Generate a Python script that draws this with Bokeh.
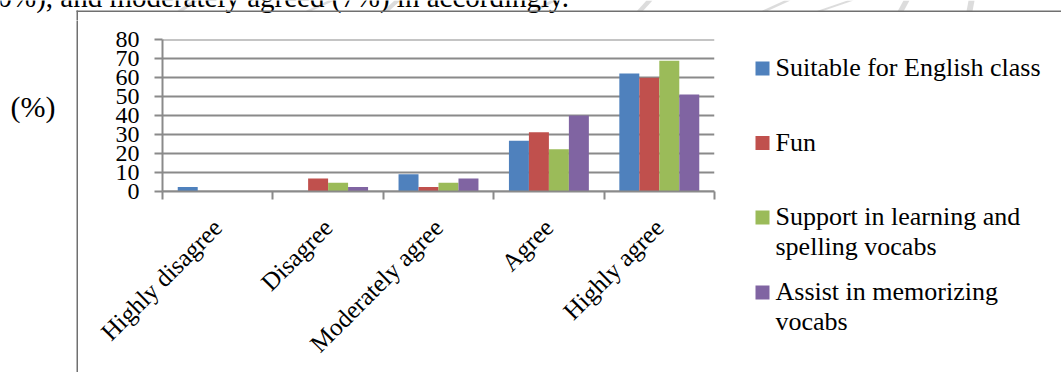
import math
import numpy as np
from bokeh.plotting import figure
from bokeh.layouts import column, row
from bokeh.models import Range1d, FixedTicker
from bokeh.core.properties import value
from bokeh.embed import file_html
from bokeh.resources import INLINE

# Survey answers (percent of respondents) per statement
categories = ["Highly disagree", "Disagree", "Moderately agree", "Agree", "Highly agree"]
suitable = [2.2, 0.0, 8.9, 26.7, 62.2]
fun = [0.0, 6.7, 2.2, 31.1, 60.0]
support = [0.0, 4.4, 4.4, 22.2, 68.9]
assist = [0.0, 2.2, 6.7, 40.0, 51.1]
series_values = [suitable, fun, support, assist]
series_names = [
    "Suitable for English class",
    "Fun",
    "Support in learning and\nspelling vocabs",
    "Assist in memorizing\nvocabs",
]
series_colors = ["#4F81BD", "#C0504D", "#9BBB59", "#8064A2"]
y_ticks = [0, 10, 20, 30, 40, 50, 60, 70, 80]
unit_caption = "(%)"
intro_text = "0%), and moderately agreed (7%) in accordingly."

# page geometry (px): a strip on top, then caption | chart | legend
W, H = 1061, 372
TOP_H = 20
LEFT_W = 80
LEG_X = 735
FL, FR, FT, FB = 162, 714, 39, 191          # plotting frame on the page
GRAY = "#8a8a8a"
BORDER = "#707070"
SERIF = "Liberation Serif"


def baseline_y(base, size):
    # text glyphs are anchored about a third of an em above the baseline
    return base - 0.34 * size


def independent(f):
    # each panel keeps its own frame instead of lining up with its neighbours
    if "frame_align" in f.properties():
        f.frame_align = False
    return f


def blank(width, height, x0, y0):
    """A figure whose data units are page pixels (y pointing down)."""
    f = figure(width=width, height=height, output_backend="svg", toolbar_location=None,
               x_range=Range1d(x0, x0 + width), y_range=Range1d(y0 + height, y0),
               x_axis_location=None, y_axis_location=None,
               min_border=0, outline_line_color=None,
               background_fill_color="white", border_fill_color="white")
    f.xgrid.visible = False
    f.ygrid.visible = False
    return independent(f)


# ---- top strip: running text of the page and the chart's top border ----
top = blank(W, TOP_H, 0, 0)
stroke_x = [176, 304, 382, 530, 636, 760, 815, 897, 966]
stroke_w = [22, 30, 18, 26, 16, 30, 38, 12, 8]
top.patches(
    xs=[[x, x + 6, x + w, x + w - 6] for x, w in zip(stroke_x, stroke_w)],
    ys=[[11, 11, 0, 0] for _ in stroke_x],
    fill_color="#9a9a9a", fill_alpha=0.35, line_color=None,
)
top.text(x=[-3], y=[baseline_y(6, 29)], text=[intro_text], text_font=value(SERIF),
         text_font_size=value("29px"), text_color="black", text_baseline="alphabetic")
top.quad(left=[76, 76], right=[W + 1, 77.5], top=[10, 10], bottom=[11.5, TOP_H + 1],
         fill_color=BORDER, line_color=None)

# ---- left strip: border and unit caption ----
left = blank(LEFT_W, H - TOP_H, 0, TOP_H)
left.quad(left=[76], right=[77.5], top=[TOP_H - 1], bottom=[H + 1],
          fill_color=BORDER, line_color=None)
left.text(x=[10], y=[baseline_y(116.5, 30)], text=[unit_caption], text_font=value(SERIF),
          text_font_size=value("30px"), text_color="black", text_baseline="alphabetic")

# ---- chart ----
p = figure(
    width=LEG_X - LEFT_W, height=H - TOP_H,
    output_backend="svg", toolbar_location=None,
    x_range=Range1d(0.5, 5.5), y_range=Range1d(-0.2, 80.2),
    min_border_left=FL - LEFT_W, min_border_right=LEG_X - FR,
    min_border_top=FT - TOP_H, min_border_bottom=H - FB,
    outline_line_color=None,
    background_fill_color="white", border_fill_color="white",
)
independent(p)

yax = p.yaxis[0]
yax.ticker = FixedTicker(ticks=y_ticks)
yax.axis_line_color = GRAY
yax.axis_line_width = 2
yax.major_tick_line_color = GRAY
yax.major_tick_line_width = 2
yax.major_tick_out = 8
yax.major_tick_in = 0
yax.minor_tick_line_color = None
yax.major_label_text_font = SERIF
yax.major_label_text_font_size = "24px"
yax.major_label_text_color = "black"
yax.major_label_standoff = 15

# category axis: names at the centres, tick marks on the boundaries
xax = p.xaxis[0]
centers = list(range(1, len(categories) + 1))
xax.ticker = FixedTicker(ticks=centers,
                         minor_ticks=[c - 0.5 for c in centers] + [len(categories) + 0.5])
xax.major_label_overrides = {c: name for c, name in zip(centers, categories)}
xax.major_label_orientation = math.pi / 4
xax.major_tick_line_color = None
xax.major_tick_out = 0
xax.major_tick_in = 0
xax.minor_tick_line_color = GRAY
xax.minor_tick_line_width = 2
xax.minor_tick_out = 8
xax.minor_tick_in = 0
xax.axis_line_color = GRAY
xax.axis_line_width = 2
xax.major_label_text_font = SERIF
xax.major_label_text_font_size = "25px"
xax.major_label_text_color = "black"
xax.major_label_standoff = 24

p.xgrid.visible = False
p.ygrid.grid_line_color = GRAY
p.ygrid.grid_line_width = 2

bar_w = 0.181
idx = np.arange(1, len(categories) + 1)
for k, (vals, col) in enumerate(zip(series_values, series_colors)):
    p.vbar(x=idx + (k - 1.5) * bar_w, top=vals, width=bar_w,
           fill_color=col, line_color=None)

# ---- legend ----
leg = blank(W - LEG_X, H - TOP_H, LEG_X, TOP_H)
swatch_y = [68, 142.5, 217, 292]
leg.quad(left=[755] * 4, right=[769] * 4,
         top=[y - 7 for y in swatch_y], bottom=[y + 7 for y in swatch_y],
         fill_color=series_colors, line_color=None)
line_txt, line_y = [], []
for name, y in zip(series_names, swatch_y):
    for j, part in enumerate(name.split("\n")):
        line_txt.append(part)
        line_y.append(baseline_y(y + 8 + 29.5 * j, 26))
leg.text(x=[775] * len(line_txt), y=line_y, text=line_txt, text_font=value(SERIF),
         text_font_size=value("26px"), text_color="black", text_baseline="alphabetic")

page = column(top, row(left, p, leg))
open("out.html", "w").write(file_html(page, INLINE))
